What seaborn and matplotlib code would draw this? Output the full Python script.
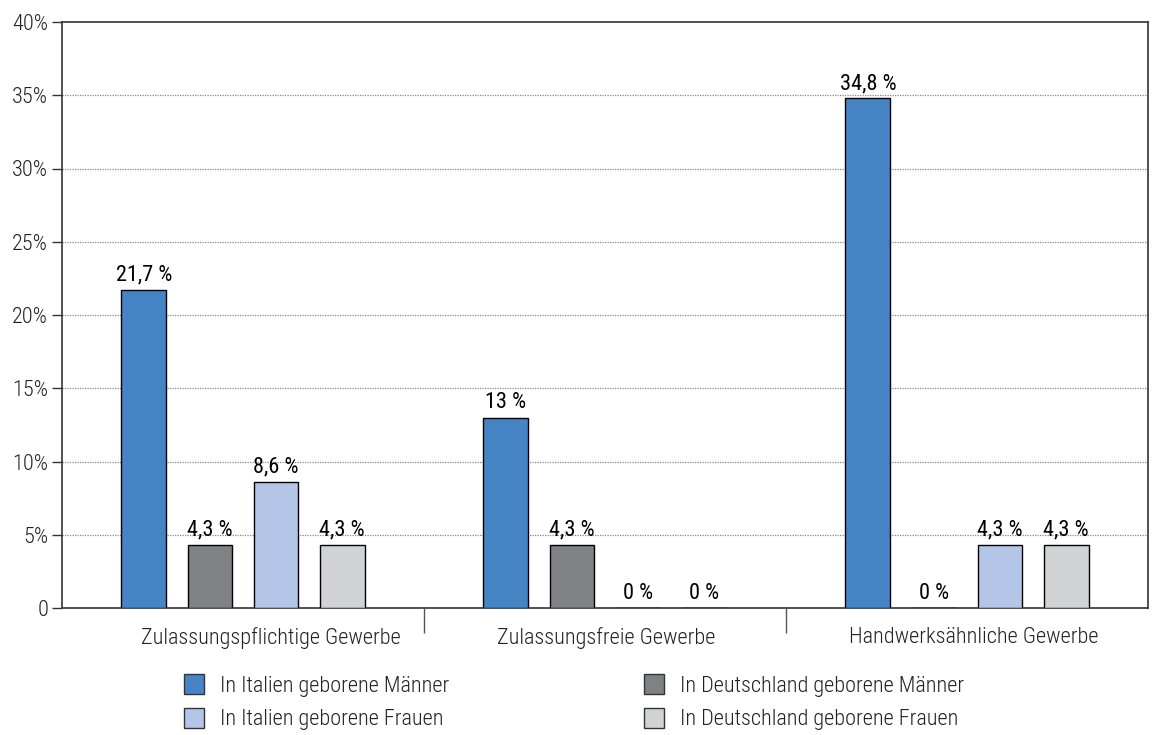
import matplotlib
matplotlib.use("Agg")
import matplotlib.pyplot as plt
import matplotlib.transforms as mtransforms
from matplotlib import font_manager as fm
from matplotlib.patches import Patch
import seaborn as sns
import pandas as pd

categories = ["Zulassungspflichtige Gewerbe", "Zulassungsfreie Gewerbe", "Handwerksähnliche Gewerbe"]
groups = ["In Italien geborene Männer", "In Deutschland geborene Männer",
          "In Italien geborene Frauen", "In Deutschland geborene Frauen"]
italien_maenner = [21.7, 13.0, 34.8]
deutschland_maenner = [4.3, 4.3, 0.0]
italien_frauen = [8.6, 0.0, 4.3]
deutschland_frauen = [4.3, 0.0, 4.3]
y_ticks = [0, 5, 10, 15, 20, 25, 30, 35, 40]
y_tick_labels = ["0", "5%", "10%", "15%", "20%", "25%", "30%", "35%", "40%"]

colors = ["#4585c5", "#808184", "#b3c6e7", "#d1d2d4"]

series = [italien_maenner, deutschland_maenner, italien_frauen, deutschland_frauen]
rows = []
for g, vals in zip(groups, series):
    for c, v in zip(categories, vals):
        rows.append({"Bereich": c, "Gruppe": g, "Anteil": v})
df = pd.DataFrame(rows)

sns.set_style("white")

# prefer a narrow sans face if one is installed
available = {f.name for f in fm.fontManager.ttflist}
family = None
for cand in ["Roboto Condensed", "Liberation Sans Narrow", "DejaVu Sans Condensed",
             "Open Sans Condensed", "Noto Sans Condensed"]:
    if cand in available:
        family = cand
        break
stretch = "normal"
if family is None:
    narrow = [f for f in fm.fontManager.ttflist
              if str(f.stretch) in ("condensed", "semi-condensed", "extra-condensed")
              and str(f.weight) in ("400", "normal", "regular") and f.style == "normal"]
    if narrow:
        family = narrow[0].name
        stretch = narrow[0].stretch
    else:
        family = "Roboto"
plt.rcParams["font.family"] = [family, "DejaVu Sans"]
plt.rcParams["font.stretch"] = stretch

fs = 16
light = "light"

fig = plt.figure(figsize=(11.52, 7.35), dpi=100)
ax = fig.add_axes([62 / 1152, 1 - 608 / 735, (1148 - 62) / 1152, (608 - 22) / 735])

sns.barplot(data=df, x="Bereich", y="Anteil", hue="Gruppe", order=categories,
            hue_order=groups, palette=colors, saturation=1, width=0.73, gap=0.32,
            edgecolor="black", linewidth=1.0, legend=False, ax=ax, zorder=3)

def fmt(v):
    s = f"{v:.1f}".replace(".", ",")
    if s.endswith(",0"):
        s = s[:-2]
    return s + " %"

for cont, vals in zip(ax.containers, series):
    ax.bar_label(cont, labels=[fmt(v) for v in vals], padding=3, fontsize=fs, color="black")

ax.set_xlim(-0.5, 2.5)
ax.set_ylim(0, 40)
ax.set_yticks(y_ticks)
ax.set_yticklabels(y_tick_labels, fontsize=fs, color="#222222", fontweight=light)
ax.tick_params(axis="y", direction="out", length=7, width=1, color="#333333", pad=3, left=True)
ax.set_xticks(range(len(categories)))
ax.set_xticklabels(categories, fontsize=fs, color="#222222", fontweight=light)
ax.tick_params(axis="x", which="major", length=0, pad=14)
ax.set_xticks([0.5, 1.5], minor=True)
ax.tick_params(axis="x", which="minor", direction="out", length=18, width=1, color="#555555", bottom=True)
ax.set_xlabel("")
ax.set_ylabel("")

# small horizontal nudges of the category labels
for lbl, dx in zip(ax.get_xticklabels(), [28, 1, 7]):
    lbl.set_transform(lbl.get_transform() +
                      mtransforms.ScaledTranslation(dx / 100, 0, fig.dpi_scale_trans))

for y in y_ticks[1:-1]:
    ax.axhline(y, color="#888888", linewidth=0.9, linestyle=(0, (1, 1)), zorder=1)

for side in ["left", "bottom", "top", "right"]:
    ax.spines[side].set_visible(True)
    ax.spines[side].set_color("#333333")
    ax.spines[side].set_linewidth(1.2)

handles = [Patch(facecolor=c, edgecolor="#333333", linewidth=1) for c in colors]
leg_kw = dict(loc="upper left", frameon=False, handlelength=0.9,
              handleheight=1.0, handletextpad=0.7, labelspacing=0.5,
              borderpad=0, borderaxespad=0, labelcolor="#222222",
              prop=fm.FontProperties(family=[family, "DejaVu Sans"], stretch=stretch,
                                     size=fs, weight=light))
fig.legend([handles[0], handles[2]], [groups[0], groups[2]],
           bbox_to_anchor=(184 / 1152, 1 - 674 / 735), **leg_kw)
fig.legend([handles[1], handles[3]], [groups[1], groups[3]],
           bbox_to_anchor=(644 / 1152, 1 - 674 / 735), **leg_kw)

fig.savefig("out.png", dpi=100)
